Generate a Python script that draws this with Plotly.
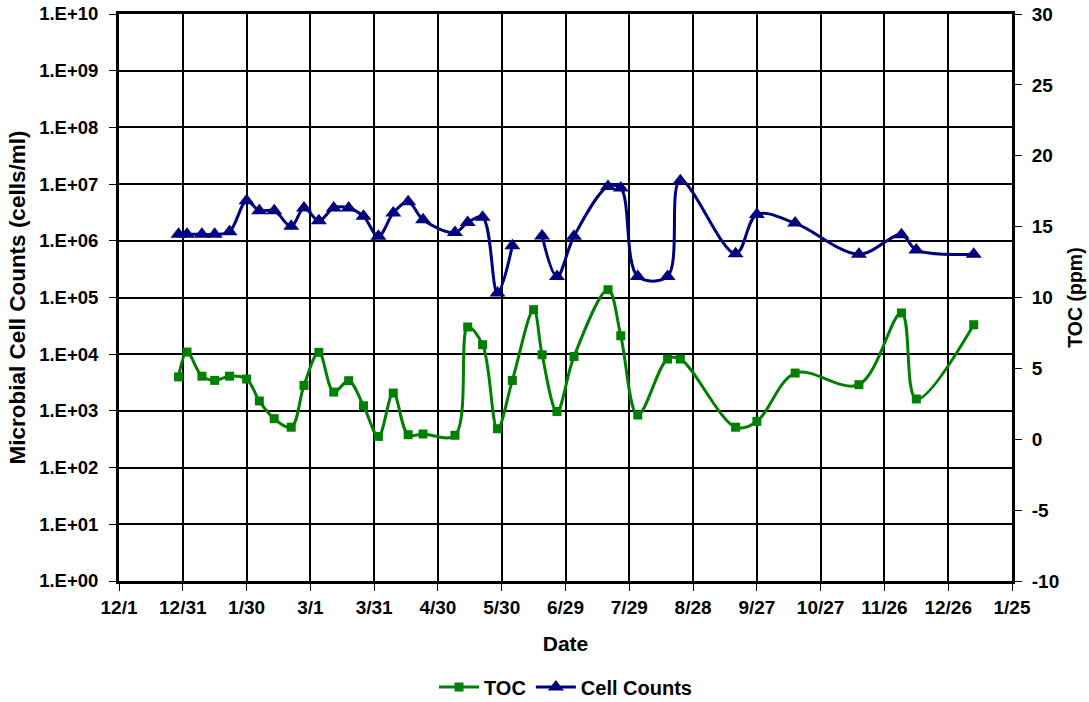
import pandas as pd
import plotly.graph_objects as go

# ---- data ----
dates = ["2002-12-29", "2003-01-02", "2003-01-09", "2003-01-15", "2003-01-22", "2003-01-30",
         "2003-02-05", "2003-02-12", "2003-02-20", "2003-02-26", "2003-03-05", "2003-03-12",
         "2003-03-19", "2003-03-26", "2003-04-02", "2003-04-09", "2003-04-16", "2003-04-23",
         "2003-05-08", "2003-05-14", "2003-05-21", "2003-05-28", "2003-06-04", "2003-06-14",
         "2003-06-18", "2003-06-25", "2003-07-03", "2003-07-19", "2003-07-25", "2003-08-02",
         "2003-08-16", "2003-08-22", "2003-09-17", "2003-09-27", "2003-10-15", "2003-11-14",
         "2003-12-04", "2003-12-11", "2004-01-07"]

toc = [4.4, 6.15, 4.45, 4.15, 4.45, 4.25,
       2.7, 1.45, 0.85, 3.8, 6.13, 3.33,
       4.13, 2.36, 0.2, 3.26, 0.32, 0.37,
       0.28, 7.92, 6.67, 0.74, 4.15, 9.14,
       5.96, 1.96, 5.84, 10.55, 7.3, 1.71,
       5.66, 5.66, 0.85, 1.26, 4.67, 3.85,
       8.91, 2.84, 8.08]

cell_counts = [1.3e6, 1.3e6, 1.3e6, 1.3e6, 1.45e6, 5.1e6,
               3.4e6, 3.4e6, 1.8e6, 3.8e6, 2.25e6, 3.8e6,
               3.8e6, 2.7e6, 1.2e6, 3.1e6, 4.9e6, 2.35e6,
               1.4e6, 2.1e6, 2.6e6, 1.2e5, 8.2e5, None,
               1.22e6, 2.35e5, 1.2e6, 9.1e6, 8.5e6, 2.35e5,
               2.35e5, 1.15e7, 5.9e5, 2.9e6, 2.05e6, 5.8e5,
               1.28e6, 6.9e5, 5.8e5]

x_tick_labels = ["12/1", "12/31", "1/30", "3/1", "3/31", "4/30", "5/30", "6/29",
                 "7/29", "8/28", "9/27", "10/27", "11/26", "12/26", "1/25"]
left_tick_labels = ["1.E+00", "1.E+01", "1.E+02", "1.E+03", "1.E+04", "1.E+05",
                    "1.E+06", "1.E+07", "1.E+08", "1.E+09", "1.E+10"]
right_tick_values = [-10, -5, 0, 5, 10, 15, 20, 25, 30]
right_tick_labels = ["-10", "-5", "0", "5", "10", "15", "20", "25", "30"]

# ---- figure ----
x_ticks = pd.date_range("2002-12-01", periods=len(x_tick_labels), freq="30D")
left_ticks = [10 ** i for i in range(len(left_tick_labels))]

FONT = "Liberation Sans, Arial, sans-serif"


def bold(size):
    return dict(family=FONT, size=size, color="black", weight="bold")


fig = go.Figure()
fig.add_trace(go.Scatter(
    x=dates, y=toc, name="TOC", yaxis="y2",
    mode="lines+markers",
    line=dict(color="#008000", width=3, shape="spline", smoothing=1.0),
    marker=dict(symbol="square", size=9, color="#008000"),
))
fig.add_trace(go.Scatter(
    x=dates, y=cell_counts, name="Cell Counts", yaxis="y",
    mode="lines+markers", connectgaps=False,
    line=dict(color="#000080", width=3, shape="spline", smoothing=1.0),
    marker=dict(symbol="triangle-up", size=14, color="#000080"),
))

fig.update_layout(
    width=1089, height=702,
    margin=dict(l=119, r=77, t=14, b=121, autoexpand=False),
    paper_bgcolor="white", plot_bgcolor="white",
    font=bold(18),
    showlegend=True,
    legend=dict(orientation="h", x=0.5, xanchor="center", y=-0.187, yanchor="middle",
                font=bold(20), traceorder="normal", itemwidth=40),
    xaxis=dict(
        type="date", range=[x_ticks[0], x_ticks[-1]], automargin=False,
        tickvals=x_ticks, ticktext=x_tick_labels,
        tickfont=bold(19), ticks="outside", ticklen=7, tickcolor="black", tickwidth=1,
        showgrid=True, gridcolor="black", gridwidth=2,
        showline=True, linecolor="black", linewidth=3, mirror=True,
        zeroline=False,
        title=dict(text="Date", font=bold(21), standoff=20),
    ),
    yaxis=dict(
        type="log", range=[0, 10], automargin=False,
        tickvals=left_ticks, ticktext=left_tick_labels,
        tickfont=bold(18.5), ticks="outside", ticklen=7, tickcolor="black", tickwidth=1,
        ticklabelstandoff=7, ticklabeloverflow="allow",
        showgrid=True, gridcolor="black", gridwidth=2,
        showline=True, linecolor="black", linewidth=3,
        zeroline=False,
        title=dict(text="Microbial Cell Counts (cells/ml)", font=bold(22.5), standoff=8),
    ),
    yaxis2=dict(
        overlaying="y", side="right", range=[-10, 30], automargin=False,
        tickvals=right_tick_values, ticktext=right_tick_labels,
        tickfont=bold(19), ticks="outside", ticklen=7, tickcolor="black", tickwidth=1,
        ticklabelstandoff=6, ticklabeloverflow="allow",
        showgrid=False, zeroline=False,
        showline=True, linecolor="black", linewidth=3,
        title=dict(text="TOC (ppm)", font=bold(19.5), standoff=11),
    ),
)

# remove the browser's default 8px body margin so the figure fills the window
fig.write_html("out.html", config={"displayModeBar": False},
               post_script="document.body.style.margin='0';")
